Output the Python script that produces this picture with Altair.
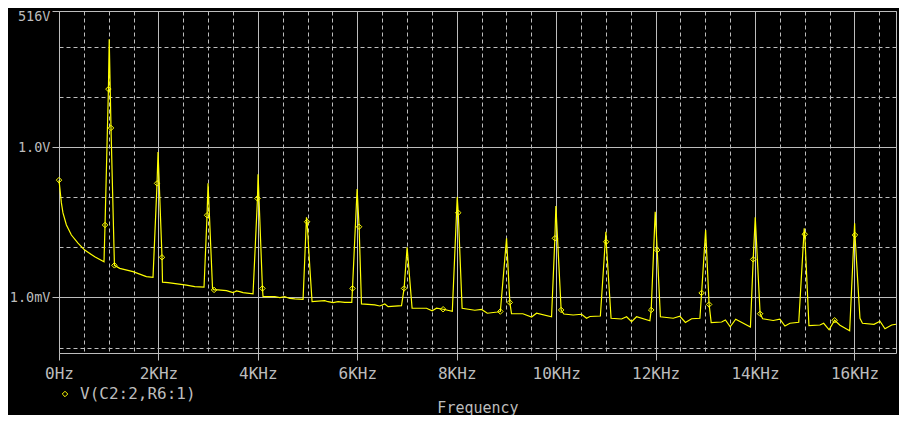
import altair as alt
import pandas as pd

# ---- data (frequency in Hz, level in dBV) ----
freq_hz = [0, 48, 80, 149, 249, 382, 517, 719, 905,
           926, 994, 1010, 1046, 1115,
           1221, 1489, 1758, 1891,
           1972, 1992, 2072, 2082,
           2193, 2563, 2730, 2917,
           2978, 2998, 3088, 3119,
           3199, 3368, 3435, 3501, 3569, 3636, 3702, 3903,
           3992, 4004, 4092, 4104,
           4340, 4441, 4541, 4642, 4743, 4909,
           4978, 4990, 5044, 5090,
           5343, 5412, 5513, 5613, 5748, 5889,
           5903, 5996, 6036, 6084,
           6352, 6453, 6553, 6620, 6889,
           6941, 7002, 7102,
           7392, 7505, 7593, 7726, 7911,
           8010, 8030, 8108,
           8364, 8499, 8615, 8817, 8877,
           9002, 9068, 9102,
           9330, 9505, 9605, 9907,
           9974, 9994, 10100, 10155,
           10342, 10511, 10611, 10678, 10889,
           11000, 11006, 11104,
           11315, 11416, 11517, 11617, 11885,
           11911, 11992, 12032, 12096,
           12354, 12488, 12599, 12724, 12891,
           12925, 13006, 13076, 13118,
           13328, 13404, 13501, 13611, 13907,
           13963, 14004, 14102, 14154,
           14365, 14500, 14601, 14702, 14879,
           14989, 15000, 15084,
           15305, 15380, 15490, 15601, 15708, 15903,
           16003, 16010, 16110,
           16160, 16392, 16513, 16613, 16748, 16835]

level_dbv = [-13.2, -22.3, -26.3, -31.1, -35.1, -38.3, -41.1, -43.8, -45.8,
             -31.1, 23.1, 43.0, 7.6, -47.2,
             -48.4, -49.7, -51.7, -52.0,
             -14.5, -2.0, -44.0, -53.9,
             -54.1, -55.1, -55.7, -55.9,
             -27.2, -14.5, -56.3, -57.0,
             -57.0, -57.3, -57.7, -58.1, -57.4, -57.7, -58.1, -58.6,
             -20.5, -10.9, -56.4, -59.7,
             -59.7, -60.1, -59.7, -60.4, -60.6, -60.8,
             -28.0, -29.8, -47.8, -61.7,
             -61.3, -61.7, -62.1, -61.7, -62.0, -62.0,
             -56.4, -16.8, -31.8, -62.6,
             -63.0, -63.4, -62.6, -63.7, -63.3,
             -56.4, -40.0, -64.3,
             -64.3, -65.3, -64.3, -64.7, -65.5,
             -19.9, -26.2, -64.3,
             -65.1, -64.8, -66.3, -65.8, -65.6,
             -36.4, -62.0, -66.5,
             -66.5, -67.8, -66.3, -67.7,
             -36.4, -23.5, -65.0, -66.6,
             -67.0, -66.7, -68.3, -67.6, -67.4,
             -33.8, -37.8, -68.3,
             -68.6, -67.7, -69.7, -67.7, -69.3,
             -65.0, -25.8, -41.1, -67.7,
             -68.3, -67.5, -70.0, -68.5, -68.3,
             -58.2, -33.1, -62.8, -70.0,
             -69.8, -69.0, -71.7, -68.7, -71.8,
             -44.8, -28.0, -66.5, -68.5,
             -69.2, -68.7, -71.4, -70.3, -69.9,
             -32.4, -34.8, -71.2,
             -71.0, -70.3, -72.9, -69.1, -71.1, -73.3,
             -30.4, -35.1, -68.3,
             -70.3, -70.7, -69.5, -72.5, -71.0, -70.7]

# frequencies where the trace carries a diamond marker
marker_hz = [0, 926, 994, 1046, 1115, 1972, 2072, 2978, 3119, 3992, 4092,
             4990, 5903, 6036, 6941, 7726, 8030, 8877, 9068, 9974, 10100,
             11006, 11911, 12032, 12925, 13076, 13963, 14102, 15000, 15601,
             16010]

series_name = "V(C2:2,R6:1)"

x_major_values = [0, 2000, 4000, 6000, 8000, 10000, 12000, 14000, 16000]
x_major_labels = ["0Hz", "2KHz", "4KHz", "6KHz", "8KHz", "10KHz", "12KHz",
                  "14KHz", "16KHz"]
x_grid_values = [i * 500 for i in range(34)]

y_major_values = [516, 1, 0.001]
y_major_labels = ["516V", "1.0V", "1.0mV"]
y_grid_values = [516, 100, 10, 1, 0.1, 0.01, 0.001, 0.0001]

x_domain = [0, 16835]
y_domain = [7.8e-5, 516]

# ---- build table ----
df = pd.DataFrame({"freq": freq_hz, "dbv": level_dbv})
df["volts"] = 10 ** (df["dbv"] / 20.0)
df["series"] = series_name
df["marker"] = df["freq"].isin(marker_hz)

GRAY = "#bdbdbd"
YELLOW = "#ffff00"
FONT = "DejaVu Sans Mono"


def label_expr(values, labels):
    expr = "''"
    for v, l in reversed(list(zip(values, labels))):
        expr = f"(datum.value == {v} ? '{l}' : {expr})"
    return expr


x_major_test = " || ".join(f"datum.value == {v}" for v in x_major_values)
y_major_test = " || ".join(f"datum.value == {v}" for v in y_major_values)
y_top_test = f"datum.value == {y_major_values[0]}"

x_axis = alt.Axis(
    values=x_grid_values,
    labelExpr=label_expr(x_major_values, x_major_labels),
    grid=True,
    gridColor=GRAY,
    gridDash={"condition": {"test": x_major_test, "value": []}, "value": [4, 3]},
    ticks=True,
    tickSize=7,
    tickColor=GRAY,
    tickOpacity={"condition": {"test": x_major_test, "value": 1}, "value": 0},
    domain=False,
    labelBaseline="middle",
    labelPadding=13,
    labelFlush=False,
    labelOverlap=False,
    labelFontSize=16,
    title="Frequency",
    titleY=59,
    titleBaseline="alphabetic",
    titleFontSize=15,
)

y_axis = alt.Axis(
    values=y_grid_values,
    labelExpr=label_expr(y_major_values, y_major_labels),
    grid=True,
    gridColor=GRAY,
    gridDash={"condition": {"test": y_major_test, "value": []}, "value": [4, 3]},
    ticks=True,
    tickSize=7,
    tickColor=GRAY,
    tickOpacity={"condition": {"test": y_major_test, "value": 1}, "value": 0},
    domain=False,
    labelPadding=2,
    labelFontSize=13.5,
    labelOffset={"condition": {"test": y_top_test, "value": 5}, "value": 0},
    labelFlush=False,
    labelOverlap=False,
    title=None,
)

x_enc = alt.X("freq:Q", scale=alt.Scale(domain=x_domain, nice=False, zero=False), axis=x_axis)
y_enc = alt.Y("volts:Q", scale=alt.Scale(type="log", domain=y_domain, nice=False), axis=y_axis)
color_enc = alt.Color(
    "series:N",
    scale=alt.Scale(range=[YELLOW]),
    legend=alt.Legend(
        title=None,
        orient="none",
        legendX=-2,
        legendY=375,
        symbolType="diamond",
        symbolSize=30,
        symbolFillColor="#000000",
        symbolStrokeColor=YELLOW,
        symbolStrokeWidth=1,
        labelOffset=7,
        padding=0,
    ),
)

line = alt.Chart(df).mark_line(strokeWidth=1.2, interpolate="linear").encode(
    x=x_enc, y=y_enc, color=color_enc, order="freq:Q"
)

points = alt.Chart(df).transform_filter("datum.marker").mark_point(
    shape="diamond", size=30, filled=False, strokeWidth=1, opacity=1
).encode(x=x_enc, y=y_enc, color=color_enc)

chart = alt.layer(line, points).properties(
    width=837,
    height=342,
    background="#000000",
    padding={"left": 51, "top": 3, "right": 3, "bottom": 62},
    autosize=alt.AutoSizeParams(type="none"),
).configure_view(
    stroke=GRAY, strokeWidth=1, fill="#000000"
).configure_axis(
    labelColor=GRAY,
    labelFont=FONT,
    titleColor=GRAY,
    titleFont=FONT,
    titleFontWeight="normal",
    gridWidth=1,
    gridOpacity=1,
).configure_legend(
    labelColor=GRAY,
    labelFont=FONT,
    labelFontSize=16,
)

chart.save("out.html", embed_options={"renderer": "svg", "actions": False})
